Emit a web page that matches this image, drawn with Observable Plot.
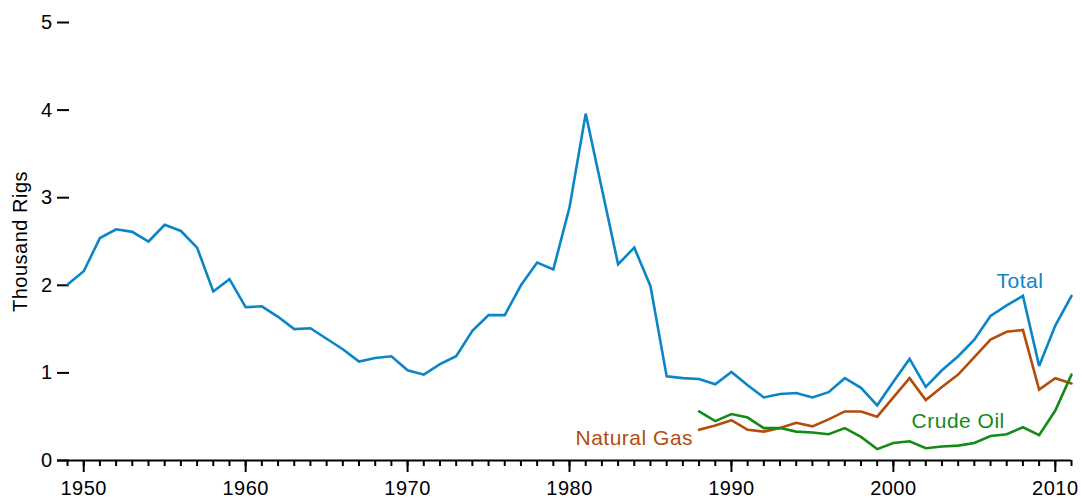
<!DOCTYPE html>
<html>
<head>
<meta charset="utf-8">
<script src="https://cdn.jsdelivr.net/npm/d3@7"></script>
<script src="https://cdn.jsdelivr.net/npm/@observablehq/plot@0.6"></script>
<style>
  body { margin: 0; background: #fff; }
  #chart svg { display: block; }
</style>
</head>
<body>
<div id="chart"></div>
<script>
// ---- Data (thousand rigs) ----
const totalYears = [1949,1950,1951,1952,1953,1954,1955,1956,1957,1958,1959,
  1960,1961,1962,1963,1964,1965,1966,1967,1968,1969,
  1970,1971,1972,1973,1974,1975,1976,1977,1978,1979,
  1980,1981,1982,1983,1984,1985,1986,1987,1988,1989,
  1990,1991,1992,1993,1994,1995,1996,1997,1998,1999,
  2000,2001,2002,2003,2004,2005,2006,2007,2008,2009,2010,2011];
const totalValues = [2.01,2.16,2.54,2.64,2.61,2.50,2.69,2.62,2.43,1.93,2.07,
  1.75,1.76,1.64,1.50,1.51,1.39,1.27,1.13,1.17,1.19,
  1.03,0.98,1.10,1.19,1.48,1.66,1.66,2.00,2.26,2.18,
  2.89,3.96,3.10,2.24,2.43,1.99,0.96,0.94,0.93,0.87,
  1.01,0.86,0.72,0.76,0.77,0.72,0.78,0.94,0.83,0.63,
  0.90,1.16,0.84,1.03,1.19,1.38,1.65,1.77,1.88,1.08,1.54,1.88];

const splitYears = [1988,1989,1990,1991,1992,1993,1994,1995,1996,1997,1998,1999,
  2000,2001,2002,2003,2004,2005,2006,2007,2008,2009,2010,2011];
const gasValues = [0.35,0.40,0.46,0.35,0.33,0.37,0.43,0.39,0.47,0.56,0.56,0.50,
  0.72,0.94,0.69,0.84,0.98,1.18,1.38,1.47,1.49,0.81,0.94,0.88];
const oilValues = [0.56,0.45,0.53,0.49,0.37,0.37,0.33,0.32,0.30,0.37,0.27,0.13,
  0.20,0.22,0.14,0.16,0.17,0.20,0.28,0.30,0.38,0.29,0.57,0.98];

const seriesNames = ["Total", "Natural Gas", "Crude Oil"];
const labelYears = [2008, 1988, 2004];   // data point each label is attached to

const yTicks = [0, 1, 2, 3, 4, 5];
const xMajorTicks = [1950, 1960, 1970, 1980, 1990, 2000, 2010];
const xMinorTicks = [1949,1950,1951,1952,1953,1954,1955,1956,1957,1958,1959,
  1960,1961,1962,1963,1964,1965,1966,1967,1968,1969,
  1970,1971,1972,1973,1974,1975,1976,1977,1978,1979,
  1980,1981,1982,1983,1984,1985,1986,1987,1988,1989,
  1990,1991,1992,1993,1994,1995,1996,1997,1998,1999,
  2000,2001,2002,2003,2004,2005,2006,2007,2008,2009,2010,2011];

// ---- Build tables ----
const colors = {"Total": "#0a86c6", "Natural Gas": "#b24d0c", "Crude Oil": "#168a16"};
const rows = [
  ...totalYears.map((year, i) => ({series: "Total", year, value: totalValues[i]})),
  ...splitYears.map((year, i) => ({series: "Natural Gas", year, value: gasValues[i]})),
  ...splitYears.map((year, i) => ({series: "Crude Oil", year, value: oilValues[i]}))
];
const labels = seriesNames.map((s, i) => rows.find(r => r.series === s && r.year === labelYears[i]));

const font = "'Liberation Sans', Arial, Helvetica, sans-serif";

const chart = Plot.plot({
  width: 1082,
  height: 498,
  marginLeft: 57,
  marginRight: 11,
  marginTop: 22,
  marginBottom: 38,
  x: {domain: [1948.38, 2011]},
  y: {domain: [0, 5]},
  style: {fontFamily: font, fontSize: "20px", letterSpacing: "0.5px", color: "#000", background: "#fff", overflow: "visible"},
  marks: [
    Plot.axisY({ticks: yTicks, tickSize: 12, dx: 12, strokeWidth: 2, tickFormat: () => "", label: null}),
    Plot.axisY({ticks: yTicks, tickSize: 0, tickPadding: 5, fontSize: 20, tickFormat: d => String(d),
      label: "Thousand Rigs", labelAnchor: "center", labelOffset: 45, labelArrow: false}),
    Plot.axisX({ticks: xMinorTicks, tickSize: 6, strokeWidth: 2, tickFormat: () => "", label: null}),
    Plot.axisX({ticks: xMajorTicks, tickSize: 12, tickPadding: 8, strokeWidth: 2, fontSize: 20,
      tickFormat: d => String(d), label: null}),
    Plot.ruleY([0], {strokeWidth: 2, stroke: "#000"}),
    Plot.line(rows, {x: "year", y: "value", z: "series", stroke: d => colors[d.series],
      strokeWidth: 2.6, strokeLinejoin: "miter", strokeMiterlimit: 3}),
    Plot.text(labels.filter(d => d.series === "Total"), {x: "year", y: "value", text: "series",
      fill: d => colors[d.series], fontSize: 21, dx: -3, dy: -15}),
    Plot.text(labels.filter(d => d.series === "Natural Gas"), {x: "year", y: "value", text: "series",
      fill: d => colors[d.series], fontSize: 21, textAnchor: "end", dx: -6, dy: 8}),
    Plot.text(labels.filter(d => d.series === "Crude Oil"), {x: "year", y: "value", text: "series",
      fill: d => colors[d.series], fontSize: 21, dy: -24})
  ]
});
document.getElementById("chart").appendChild(chart);
</script>
</body>
</html>
